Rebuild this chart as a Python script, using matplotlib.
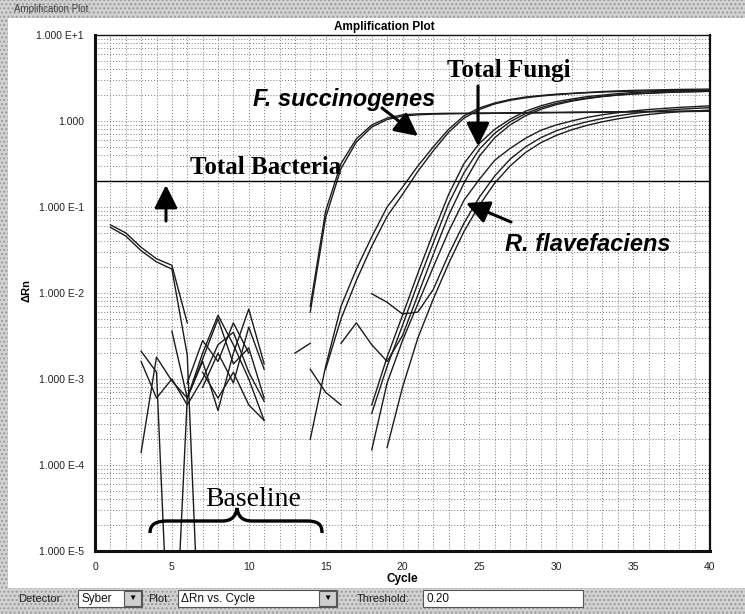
import numpy as np
import matplotlib
matplotlib.use('Agg')
import matplotlib.pyplot as plt
from matplotlib.patches import Rectangle, PathPatch
from matplotlib.path import Path
from matplotlib.ticker import FixedLocator, FixedFormatter, LogLocator, NullFormatter, MultipleLocator

N = np.nan
OFF = 1e-7  # point drawn below the axis (negative / zero delta Rn)

cycles = list(range(1, 41))
threshold = 0.20

# total bacteria (2 replicates)
tb_a = [0.062, 0.05, 0.034, 0.025, 0.021, 0.0045, N, N, N, N, N, N, N,
        0.007, 0.09, 0.32, 0.62, 0.9, 1.08, 1.18, 1.21, 1.22, 1.23, 1.23, 1.24, 1.24,
        1.25, 1.25, 1.26, 1.26, 1.27, 1.27, 1.28, 1.28, 1.29, 1.29, 1.3, 1.3, 1.31, 1.31]
tb_b = [0.058, 0.046, 0.031, 0.023, 0.019, 0.0019, OFF, N, N, N, N, N, N,
        0.006, 0.075, 0.28, 0.57, 0.85, 1.04, 1.14, 1.18, 1.2, 1.21, 1.22, 1.22, 1.23,
        1.23, 1.24, 1.24, 1.25, 1.25, 1.26, 1.26, 1.27, 1.27, 1.28, 1.28, 1.29, 1.29, 1.3]

# F. succinogenes
fs_a = [N, N, 1.4e-4, 1.8e-3, 9.5e-4, 6e-4, 1.7e-3, 5e-3, 1.5e-3, 2.3e-3, 6e-4, N, N,
        2e-4, 1.4e-3, 0.007, 0.019, 0.045, 0.1, 0.17, 0.3, 0.5, 0.8, 1.15, 1.42, 1.62,
        1.78, 1.9, 1.98, 2.05, 2.1, 2.15, 2.2, 2.24, 2.27, 2.29, 2.31, 2.33, 2.34, 2.35]
fs_b = [N, N, 2.1e-3, 1.2e-3, OFF, 6e-4, 2e-3, 5.5e-3, 2.5e-3, 1e-3, 3.3e-4, N, N, N,
        1.3e-3, 0.005, 0.014, 0.035, 0.078, 0.14, 0.26, 0.45, 0.74, 1.08, 1.36, 1.58,
        1.74, 1.86, 1.95, 2.02, 2.08, 2.13, 2.17, 2.2, 2.22, 2.24, 2.25, 2.26, 2.27, 2.28]

# total fungi
fg_a = [N, N, N, N, 3.6e-3, 6e-4, 1.6e-3, 4.3e-4, 2e-3, 6.5e-3, 1.5e-3, N, 2e-3, 2.6e-3,
        N, N, N, 5e-4, 1.8e-3, 5.5e-3, 0.017, 0.05, 0.14, 0.32, 0.55, 0.8,
        1.05, 1.3, 1.5, 1.68, 1.8, 1.92, 2.0, 2.08, 2.14, 2.18, 2.21, 2.24, 2.26, 2.28]
fg_b = [N, N, 1.6e-3, 6e-4, 1e-3, 5e-4, 1e-3, 2.5e-3, 3.5e-3, 1.2e-3, 5.5e-4, N, N,
        1.3e-3, 7e-4, 5e-4, N, 4e-4, 1.4e-3, 4.2e-3, 0.013, 0.038, 0.11, 0.25, 0.47, 0.72,
        0.98, 1.22, 1.43, 1.6, 1.74, 1.85, 1.94, 2.01, 2.07, 2.11, 2.15, 2.18, 2.2, 2.22]
fg_c = [N, N, N, N, N, 9e-4, 2.8e-3, 1.6e-3, 4.5e-3, 2e-3, N, N, N, N, N,
        2.6e-3, 4.5e-3, 2.5e-3, 1.6e-3, 3.2e-3, 9.5e-3, 0.028, 0.08, 0.19, 0.39, 0.64,
        0.9, 1.15, 1.37, 1.55, 1.7, 1.82, 1.92, 2.0, 2.06, 2.1, 2.14, 2.17, 2.19, 2.21]

# R. flavefaciens
rf_a = [N, N, N, N, N, N, 8e-4, 2e-3, 9e-4, 4e-3, 1.3e-3, N, N, N, N, N, N,
        1.5e-4, 9e-4, 2.8e-3, 7.5e-3, 0.02, 0.052, 0.12, 0.21, 0.35,
        0.48, 0.63, 0.78, 0.9, 1.0, 1.1, 1.18, 1.25, 1.31, 1.36, 1.4, 1.44, 1.47, 1.5]
rf_b = [N, N, N, N, N, N, 1.2e-3, 6e-4, 1.2e-3, 5e-4, 3.3e-4, N, N, N, N, N, N,
        9.8e-3, 7.8e-3, 5.7e-3, 6e-3, 0.011, 0.028, 0.065, 0.13, 0.23,
        0.36, 0.5, 0.64, 0.77, 0.88, 0.98, 1.07, 1.15, 1.22, 1.28, 1.33, 1.37, 1.4, 1.43]
rf_c = [N, N, N, N, N, N, N, N, N, N, N, N, N, N, N, N, N, N,
        1.6e-4, 8e-4, 3e-3, 8.5e-3, 0.022, 0.052, 0.105, 0.19,
        0.3, 0.43, 0.56, 0.68, 0.79, 0.89, 0.98, 1.06, 1.13, 1.19, 1.24, 1.28, 1.31, 1.34]

series = [tb_a, tb_b, fs_a, fs_b, fg_a, fg_b, fg_c, rf_a, rf_b, rf_c]

y_ticks = [1e-5, 1e-4, 1e-3, 1e-2, 1e-1, 1, 10]
y_labels = ['1.000 E-5', '1.000 E-4', '1.000 E-3', '1.000 E-2', '1.000 E-1', '1.000', '1.000 E+1']
x_ticks = [0, 5, 10, 15, 20, 25, 30, 35, 40]

W, H = 745, 614
plt.rcParams['font.family'] = ['Liberation Sans', 'DejaVu Sans']


def fpx(px, py):
    # reference pixel (top-left origin) -> figure fraction
    return px / W, 1 - py / H


fig = plt.figure(figsize=(7.45, 6.14), dpi=100)
fig.patch.set_facecolor('#d2d2d2')

# window chrome: dithered grey frame, white panel
fig.patches.append(Rectangle((0, 0), 1, 1, transform=fig.transFigure, facecolor='#d2d2d2',
                             edgecolor='#9a9a9a', hatch='....', lw=0, zorder=-10))
x0, y0 = fpx(8, 588)
fig.patches.append(Rectangle((x0, y0), 1 - x0, (588 - 18) / H, transform=fig.transFigure,
                             facecolor='white', edgecolor='none', zorder=-9))
fig.text(*fpx(14, 9), 'Amplification Plot', fontsize=7, color='#444', va='center')

ax = fig.add_axes([95 / W, 1 - 551 / H, (710 - 95) / W, (551 - 35) / H])
ax.set_yscale('log')
for s in series:
    ax.plot(cycles, s, color='#1c1c1c', lw=1.0)
ax.axhline(threshold, color='black', lw=1.0)

ax.set_xlim(0, 40)
ax.set_ylim(1e-5, 10)
ax.xaxis.set_major_locator(FixedLocator(x_ticks))
ax.xaxis.set_minor_locator(MultipleLocator(1))
ax.yaxis.set_major_locator(FixedLocator(y_ticks))
ax.yaxis.set_major_formatter(FixedFormatter(y_labels))
ax.yaxis.set_minor_locator(LogLocator(base=10, subs=range(2, 10), numticks=20))
ax.yaxis.set_minor_formatter(NullFormatter())
ax.tick_params(which='both', length=0, labelsize=7.5, colors='#222', pad=8)
ax.grid(which='both', color='#7a7a7a', lw=0.7, ls=(0, (1, 2)))
for side, lw in [('left', 2.2), ('bottom', 2.2), ('right', 1.6), ('top', 1.0)]:
    ax.spines[side].set_linewidth(lw)
    ax.spines[side].set_color('#111')

fig.text(*fpx(384, 27), 'Amplification Plot', fontsize=8.5, weight='bold', ha='center', va='center')
fig.text(*fpx(402, 579), 'Cycle', fontsize=8.5, weight='bold', ha='center', va='center')
fig.text(*fpx(27, 290), 'ΔRn', fontsize=8, weight='bold', rotation=90, ha='center', va='center')

# annotations
serif = ['Liberation Serif', 'DejaVu Serif']
fig.text(*fpx(190, 174), 'Total Bacteria', fontsize=18, weight='bold', family=serif, va='baseline')
fig.text(*fpx(447, 77), 'Total Fungi', fontsize=18, weight='bold', family=serif, va='baseline')
fig.text(*fpx(253, 106), 'F. succinogenes', fontsize=17, weight='bold', style='italic', va='baseline')
fig.text(*fpx(505, 251), 'R. flavefaciens', fontsize=17, weight='bold', style='italic', va='baseline')
fig.text(*fpx(205, 506), 'Baseline', fontsize=20, family=serif, va='baseline')

arrow = dict(arrowstyle='-|>,head_length=0.7,head_width=0.35', lw=2.2, color='black',
             mutation_scale=20, shrinkA=0, shrinkB=0)
for tail, tip in [((166, 221), (166, 185)), ((382, 108), (418, 136)),
                  ((478, 86), (478, 146)), ((511, 222), (466, 203))]:
    ax.annotate('', xy=fpx(*tip), xytext=fpx(*tail), xycoords='figure fraction',
                textcoords='figure fraction', arrowprops=arrow)

# curly brace under "Baseline"
brace_px = [(150, 533), (150, 524), (156, 521), (168, 521), (222, 521),
            (232, 521), (236, 516), (237, 508), (238, 516), (242, 521), (252, 521),
            (306, 521), (318, 521), (322, 524), (322, 533)]
codes = [Path.MOVETO, Path.CURVE4, Path.CURVE4, Path.CURVE4, Path.LINETO,
         Path.CURVE4, Path.CURVE4, Path.CURVE4, Path.CURVE4, Path.CURVE4, Path.CURVE4,
         Path.LINETO, Path.CURVE4, Path.CURVE4, Path.CURVE4]
brace = Path([fpx(*p) for p in brace_px], codes)
fig.patches.append(PathPatch(brace, transform=fig.transFigure, facecolor='none',
                             edgecolor='black', lw=2.4))

# bottom control strip
ui = dict(fontsize=8, color='#222', va='center')
fig.text(*fpx(18, 599), 'Detector:', **ui)
fig.text(*fpx(148, 599), 'Plot:', **ui)
fig.text(*fpx(357, 599), 'Threshold:', **ui)
for (l, r, label) in [(78, 142, 'Syber'), (178, 337, 'ΔRn vs. Cycle'), (423, 583, '0.20')]:
    bx, by = fpx(l, 607)
    fig.patches.append(Rectangle((bx, by), (r - l) / W, 17 / H, transform=fig.transFigure,
                                 facecolor='white', edgecolor='#555', lw=0.8))
    fig.text(*fpx(l + 3, 599), label, fontsize=8.5, color='#111', va='center')
for r in (142, 337):
    bx, by = fpx(r - 18, 606)
    fig.patches.append(Rectangle((bx, by), 17 / W, 15 / H, transform=fig.transFigure,
                                 facecolor='#cfcfcf', edgecolor='#555', lw=0.8))
    fig.text(*fpx(r - 9.5, 598), '▼', fontsize=6, ha='center', va='center')

fig.savefig('out.png', dpi=100)
